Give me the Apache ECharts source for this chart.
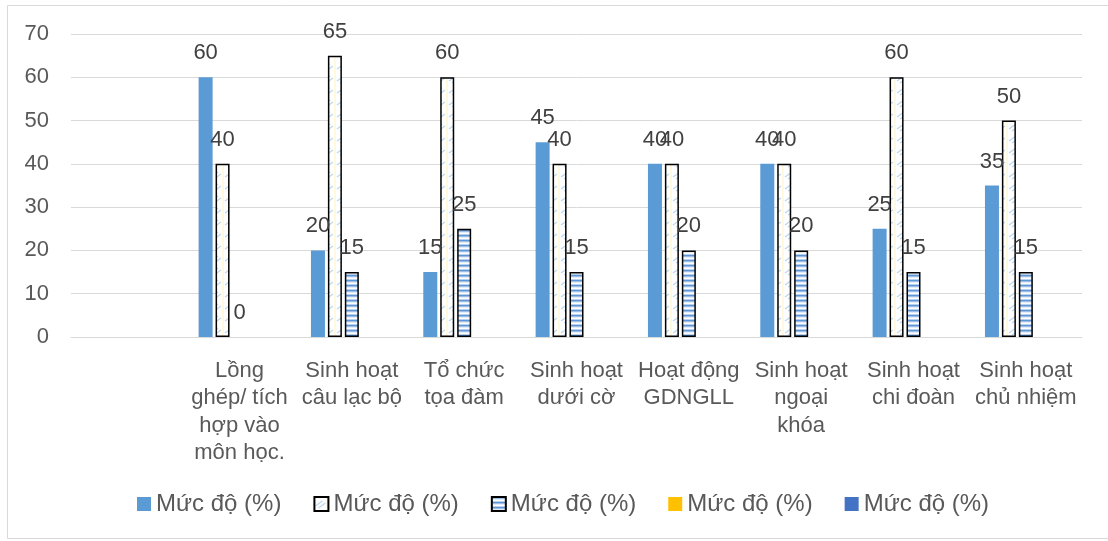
<!DOCTYPE html>
<html><head><meta charset="utf-8">
<script src="https://cdn.jsdelivr.net/npm/echarts@6/dist/echarts.min.js"></script>
<style>html,body{margin:0;padding:0;background:#fff}#c{width:1108px;height:541px}</style>
</head><body><div id="c"></div>
<script>
const categories = ["", "Lồng\nghép/ tích\nhợp vào\nmôn học.", "Sinh hoạt\ncâu lạc bộ", "Tổ chức\ntọa đàm", "Sinh hoạt\ndưới cờ", "Hoạt động\nGDNGLL", "Sinh hoạt\nngoại\nkhóa", "Sinh hoạt\nchi đoàn", "Sinh hoạt\nchủ nhiệm"];
const seriesLabel = "Mức độ (%)";
const seriesIds = ["1", "2", "3", "4", "5"];
const series1 = [null, 60, 20, 15, 45, 40, 40, 25, 35];
const series2 = [null, 40, 65, 60, 40, 40, 40, 60, 50];
const series3 = [null, 0, 15, 25, 15, 20, 20, 15, 15];
const series4 = [null, null, null, null, null, null, null, null, null];
const series5 = [null, null, null, null, null, null, null, null, null];
const yTicks = [0, 10, 20, 30, 40, 50, 60, 70];

function diagPattern() {
  const c = document.createElement('canvas'); c.width = 14; c.height = 12;
  const g = c.getContext('2d');
  g.fillStyle = '#ffffff'; g.fillRect(0, 0, 14, 12);
  g.strokeStyle = 'rgba(91,155,213,0.4)'; g.lineWidth = 1.3;
  g.beginPath(); g.moveTo(1, 9); g.lineTo(8, 4); g.stroke();
  g.beginPath(); g.moveTo(4, 11); g.lineTo(11, 6); g.stroke();
  g.fillStyle = 'rgba(255,235,150,0.3)'; g.fillRect(12, 0, 2, 12);
  return c;
}
function stripePattern() {
  const c = document.createElement('canvas'); c.width = 4; c.height = 5;
  const g = c.getContext('2d');
  const cols = ['#5f95d3', '#9dbde6', '#e3edf8', '#ffffff', '#b9d1ee'];
  cols.forEach((col, i) => { g.fillStyle = col; g.fillRect(0, i, 4, 1); });
  return c;
}
const font = 'Liberation Sans';
const labelCfg = { show: true, position: 'top', distance: 13, fontSize: 22, color: '#404040', fontFamily: font };
const chart = echarts.init(document.getElementById('c'));
const datas = [series1, series2, series3, series4, series5];
const styles = [
  { color: '#5b9bd5' },
  { color: { image: diagPattern(), repeat: 'repeat' }, borderColor: '#000', borderWidth: 1.5 },
  { color: { image: stripePattern(), repeat: 'repeat' }, borderColor: '#000', borderWidth: 1.5 },
  { color: '#ffc000' },
  { color: '#4472c4' }
];
chart.setOption({
  animation: false,
  graphic: [{ type: 'rect', shape: { x: 7.5, y: 5.5, width: 1120, height: 533 }, style: { fill: 'none', stroke: '#d9d9d9', lineWidth: 1 } }],
  grid: { left: 71, right: 26, top: 34, bottom: 204 },
  legend: {
    left: 132, top: 487, itemWidth: 14, itemHeight: 14, itemGap: 32, icon: 'rect',
    formatter: () => seriesLabel,
    textStyle: { fontSize: 24, color: '#595959', fontFamily: font },
    data: seriesIds
  },
  xAxis: {
    type: 'category', data: categories,
    axisLine: { lineStyle: { color: '#d9d9d9', width: 1 } },
    axisTick: { show: false },
    axisLabel: { interval: 0, fontSize: 22, lineHeight: 27.5, color: '#595959', fontFamily: font, margin: 20 }
  },
  yAxis: {
    type: 'value', min: yTicks[0], max: yTicks[yTicks.length - 1], interval: 10,
    axisLine: { show: false }, axisTick: { show: false },
    splitLine: { lineStyle: { color: '#d9d9d9', width: 1 } },
    axisLabel: { fontSize: 22, color: '#595959', fontFamily: font, margin: 22 }
  },
  tooltip: { show: false },
  series: datas.map((d, i) => ({
    name: seriesIds[i], type: 'bar', barWidth: 14, barGap: '21%',
    data: d.map(v => v === 0 ? { value: 0, itemStyle: { borderWidth: 0 } } : v),
    itemStyle: styles[i], label: labelCfg
  }))
});
</script></body></html>
